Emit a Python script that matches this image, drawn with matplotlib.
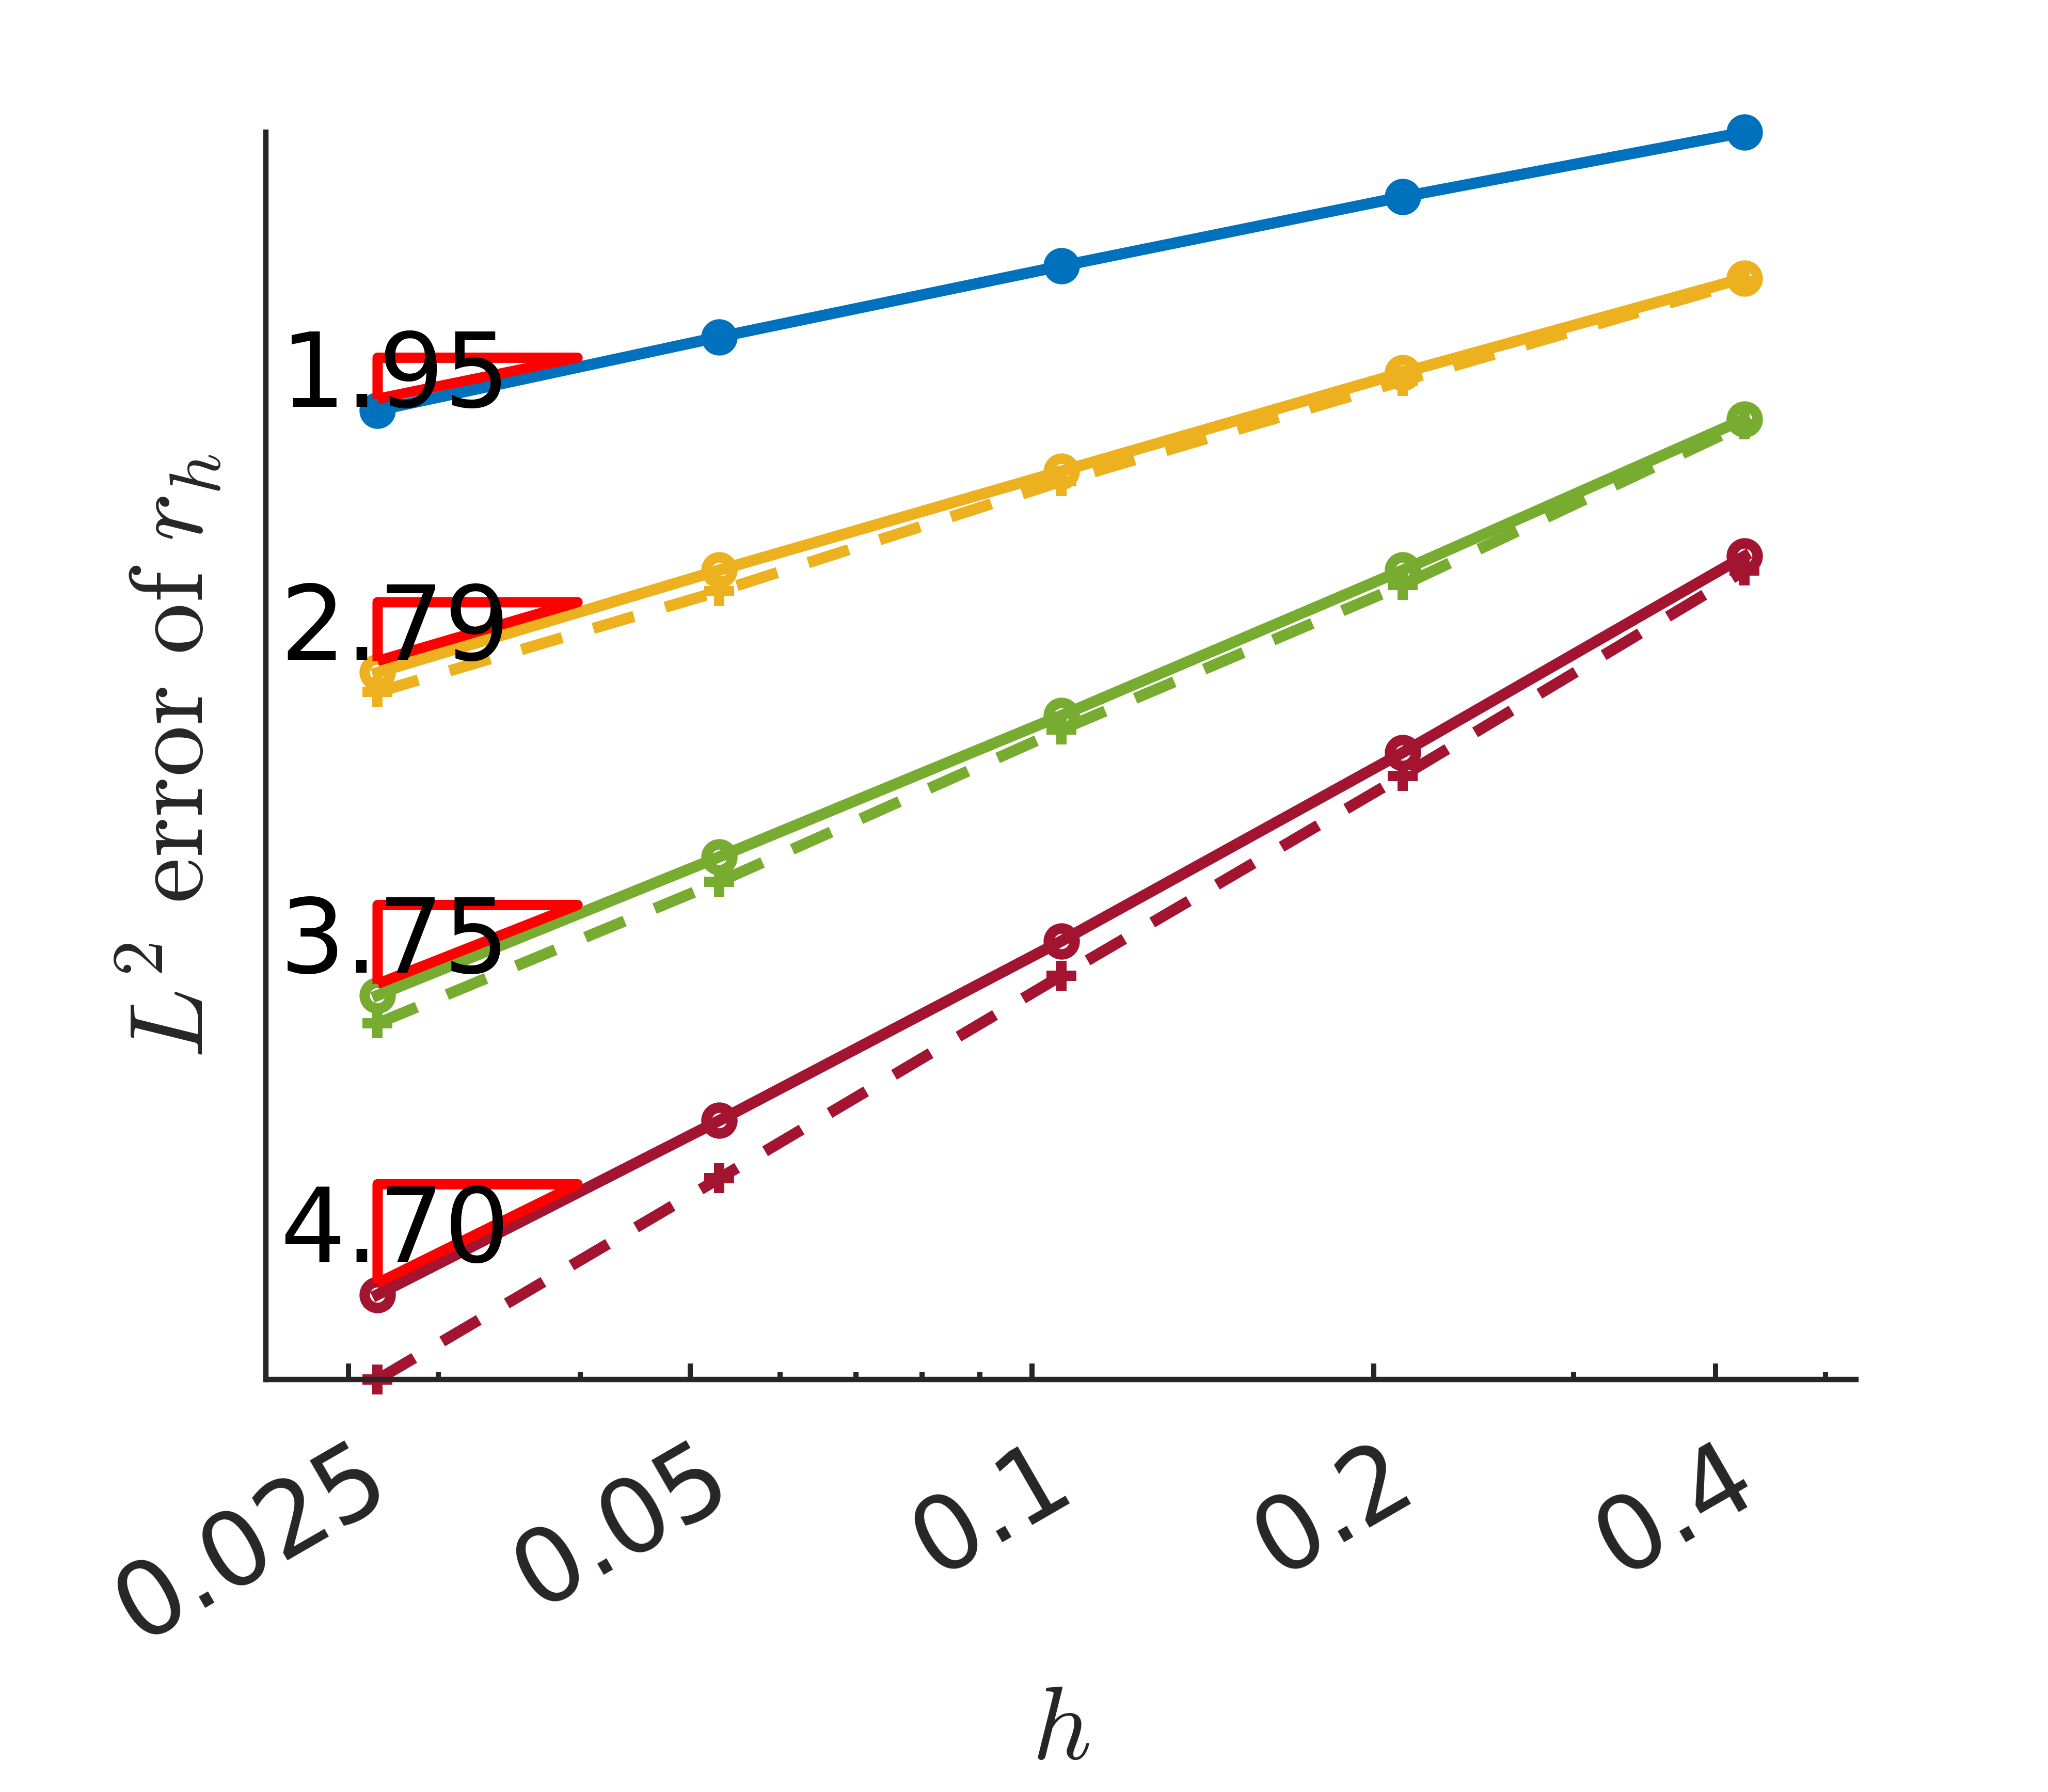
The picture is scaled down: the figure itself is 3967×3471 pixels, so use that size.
import numpy as np
import matplotlib
matplotlib.use("Agg")
import matplotlib.pyplot as plt
from matplotlib.ticker import FixedLocator, NullFormatter, LogLocator
from matplotlib.transforms import ScaledTranslation

plt.rcParams["font.family"] = ["DejaVu Sans"]
plt.rcParams["mathtext.fontset"] = "cm"

# mesh sizes
h = [0.02652, 0.05303, 0.1061, 0.2121, 0.4243]

# L2 errors (solid = circles, dashed = plus)
err_blue = [4.69e-4, 1.93e-3, 7.57e-3, 2.88e-2, 1.00e-1]
err_yellow = [2.99e-6, 2.15e-5, 1.45e-4, 9.71e-4, 6.01e-3]
err_yellow_d = [2.05e-6, 1.43e-5, 1.19e-4, 8.28e-4, 5.66e-3]
err_green = [5.90e-9, 8.53e-8, 1.30e-6, 2.15e-5, 3.96e-4]
err_green_d = [3.44e-9, 5.28e-8, 9.91e-7, 1.61e-5, 3.58e-4]
err_red = [1.84e-11, 5.28e-10, 1.68e-8, 6.38e-7, 2.82e-5]
err_red_d = [3.58e-12, 1.73e-10, 8.61e-9, 4.07e-7, 2.13e-5]

rates = [1.95, 2.79, 3.75, 4.70]
rate_labels = ["1.95", "2.79", "3.75", "4.70"]

xticks = [0.025, 0.05, 0.1, 0.2, 0.4]
xtick_labels = ["0.025", "0.05", "0.1", "0.2", "0.4"]

BLUE = "#0072BD"
YELLOW = "#EDB120"
GREEN = "#77AC30"
RED = "#A2142F"
INK = "#262626"

fig = plt.figure(figsize=(3967 / 300, 3471 / 300), dpi=300)
ax = fig.add_axes([0.1298, 0.2302, 0.7764, 0.6960])

lw = 5.2
dash = (0, (3.8, 2.9))
circ = dict(marker="o", ms=12, mew=4.9, mfc="none")
plus = dict(marker="+", ms=14, mew=4.8)

ax.plot(h, err_blue, color=BLUE, lw=lw, marker="o", ms=12, mew=4.9,
        mfc=BLUE, mec=BLUE, clip_on=False)
solid = [(err_yellow, err_yellow_d, YELLOW),
         (err_green, err_green_d, GREEN),
         (err_red, err_red_d, RED)]
for e, ed, c in solid:
    ax.plot(h, e, color=c, lw=lw, mec=c, clip_on=False, **circ)
    ax.plot(h, ed, color=c, lw=lw, ls=dash, mec=c, clip_on=False, **plus)

# slope triangles
firsts = [err_blue[0], err_yellow[0], err_green[0], err_red[0]]
for e0, p, lab in zip(firsts, rates, rate_labels):
    x0 = h[0]
    x1 = h[0] * 1.5
    yb = e0 * 1.25
    yt = yb * 1.5 ** p
    ax.plot([x0, x0, x1, x0], [yb, yt, yt, yb], color="#FF0000", lw=4.8,
            solid_joinstyle="round", solid_capstyle="butt", zorder=5)
    ax.text(x0 * 0.82, np.sqrt(yb * yt), lab, ha="left", va="center",
            fontsize=48, color="black", zorder=6)

ax.set_xscale("log")
ax.set_yscale("log")
ax.set_xlim(0.02114, 0.5318)
ax.set_ylim(min(err_red_d), max(err_blue))

ax.xaxis.set_major_locator(FixedLocator(xticks))
ax.set_xticklabels(xtick_labels)
ax.xaxis.set_minor_locator(LogLocator(base=10, subs=np.arange(2, 10)))
ax.xaxis.set_minor_formatter(NullFormatter())
ax.tick_params(axis="x", which="major", direction="in", length=7.4, width=2.4,
               color=INK, labelsize=48, labelcolor=INK, pad=22)
ax.tick_params(axis="x", which="minor", direction="in", length=3.6, width=2.4, color=INK)
ax.tick_params(axis="y", which="both", left=False, labelleft=False)
shift = ScaledTranslation(3 / 72, 0, fig.dpi_scale_trans)
for lbl in ax.get_xticklabels():
    lbl.set_rotation(30)
    lbl.set_ha("right")
    lbl.set_rotation_mode("anchor")
    lbl.set_transform(lbl.get_transform() + shift)

for s in ["top", "right"]:
    ax.spines[s].set_visible(False)
for s in ["left", "bottom"]:
    ax.spines[s].set_linewidth(2.5)
    ax.spines[s].set_color(INK)

ax.set_xlabel(r"$h$", fontsize=48, color=INK, labelpad=9)
ax.set_ylabel(r"$L^2\ \mathrm{error\ of}\ r_h$", fontsize=48, color=INK, labelpad=19)

fig.savefig("out.png", dpi=300)
